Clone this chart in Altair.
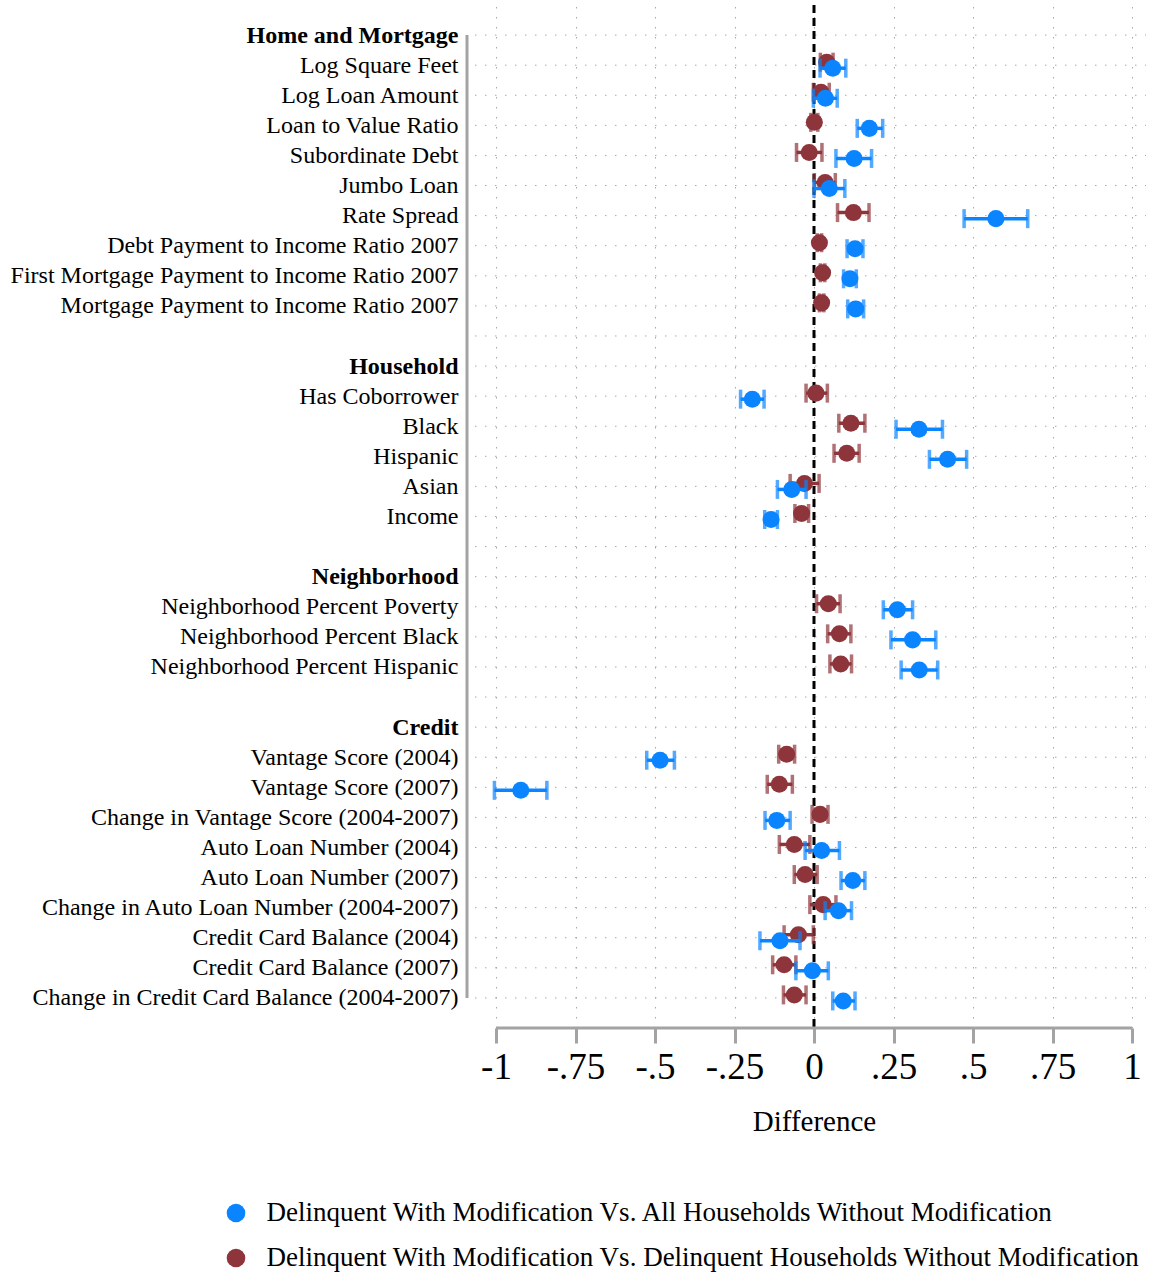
import json

import altair as alt
import pandas as pd

# Row layout of the y axis (group headers, variables and spacer rows), top to bottom
row_labels = [
    "Home and Mortgage",
    "Log Square Feet",
    "Log Loan Amount",
    "Loan to Value Ratio",
    "Subordinate Debt",
    "Jumbo Loan",
    "Rate Spread",
    "Debt Payment to Income Ratio 2007",
    "First Mortgage Payment to Income Ratio 2007",
    "Mortgage Payment to Income Ratio 2007",
    "",
    "Household",
    "Has Coborrower",
    "Black",
    "Hispanic",
    "Asian",
    "Income",
    "",
    "Neighborhood",
    "Neighborhood Percent Poverty",
    "Neighborhood Percent Black",
    "Neighborhood Percent Hispanic",
    "",
    "Credit",
    "Vantage Score (2004)",
    "Vantage Score (2007)",
    "Change in Vantage Score (2004-2007)",
    "Auto Loan Number (2004)",
    "Auto Loan Number (2007)",
    "Change in Auto Loan Number (2004-2007)",
    "Credit Card Balance (2004)",
    "Credit Card Balance (2007)",
    "Change in Credit Card Balance (2004-2007)",
]
group_headers = ["Home and Mortgage", "Household", "Neighborhood", "Credit"]
variables = [lab for lab in row_labels if lab and lab not in group_headers]

series_all = "Delinquent With Modification Vs. All Households Without Modification"
series_delinq = "Delinquent With Modification Vs. Delinquent Households Without Modification"

# Difference vs. all households without modification (estimate, 95% CI)
all_est = [0.059, 0.036, 0.174, 0.126, 0.048, 0.572, 0.129, 0.113, 0.131,
           -0.194, 0.330, 0.420, -0.070, -0.135,
           0.262, 0.310, 0.331,
           -0.484, -0.922, -0.117, 0.024, 0.122, 0.077, -0.107, -0.005, 0.092]
all_lo = [0.019, -0.002, 0.136, 0.069, 0.000, 0.472, 0.104, 0.093, 0.106,
          -0.231, 0.258, 0.363, -0.115, -0.155,
          0.218, 0.242, 0.274,
          -0.526, -1.005, -0.154, -0.028, 0.085, 0.035, -0.170, -0.057, 0.059]
all_hi = [0.100, 0.073, 0.216, 0.181, 0.097, 0.672, 0.154, 0.133, 0.156,
          -0.157, 0.404, 0.480, -0.025, -0.115,
          0.310, 0.383, 0.389,
          -0.439, -0.840, -0.075, 0.080, 0.160, 0.118, -0.044, 0.045, 0.129]

# Difference vs. delinquent households without modification (estimate, 95% CI)
delinq_est = [0.040, 0.022, 0.001, -0.015, 0.035, 0.124, 0.017, 0.027, 0.024,
              0.006, 0.116, 0.103, -0.030, -0.039,
              0.045, 0.080, 0.084,
              -0.086, -0.109, 0.019, -0.062, -0.028, 0.029, -0.049, -0.094, -0.062]
delinq_lo = [0.020, -0.002, -0.010, -0.055, 0.001, 0.074, 0.010, 0.020, 0.017,
             -0.025, 0.078, 0.063, -0.075, -0.060,
             0.008, 0.043, 0.050,
             -0.111, -0.147, -0.006, -0.109, -0.062, -0.013, -0.094, -0.130, -0.096]
delinq_hi = [0.060, 0.048, 0.012, 0.025, 0.067, 0.173, 0.024, 0.034, 0.031,
             0.042, 0.160, 0.142, 0.016, -0.017,
             0.082, 0.116, 0.118,
             -0.061, -0.068, 0.044, -0.013, 0.010, 0.069, -0.002, -0.057, -0.025]

x_ticks = [-1, -0.75, -0.5, -0.25, 0, 0.25, 0.5, 0.75, 1]
x_tick_labels = ["-1", "-.75", "-.5", "-.25", "0", ".25", ".5", ".75", "1"]

BLUE = "#0a84ff"
RED = "#8e353b"
AXIS_GRAY = "#a3a3a3"
GRID_GRAY = "#a8a8a8"
SERIF = "Liberation Serif"

W, H = 683, 1023
X_MIN, X_MAX = -1.0912, 1.0566
n_rows = len(row_labels)
header_rows = [row_labels.index(h) for h in group_headers]


def series_frame(name, est, lo, hi, shift):
    rows = [row_labels.index(v) for v in variables]
    return pd.DataFrame({
        "variable": variables,
        "series": name,
        "est": est,
        "lo": lo,
        "hi": hi,
        "pos": [r + shift for r in rows],
    })


df_all = series_frame(series_all, all_est, all_lo, all_hi, 0.1)
df_delinq = series_frame(series_delinq, delinq_est, delinq_lo, delinq_hi, -0.1)

x_scale = alt.Scale(domain=[X_MIN, X_MAX], nice=False, zero=False)
y_scale = alt.Scale(domain=[-1, 33], reverse=True, nice=False, zero=False)

# Axis title centred under the -1..1 span
title_x = W * (0 - X_MIN) / (X_MAX - X_MIN)

x_axis = alt.Axis(
    values=x_ticks,
    labelExpr=f"{json.dumps(x_tick_labels)}[round((datum.value + 1) * 4)]",
    title="Difference",
    domain=False,
    ticks=True,
    tickSize=15,
    tickWidth=3,
    tickColor=AXIS_GRAY,
    grid=True,
    gridDash=[1.5, 8.5],
    gridColor=GRID_GRAY,
    gridWidth=1,
    labelFont=SERIF,
    labelFontSize=37,
    labelColor="black",
    labelPadding=6,
    labelFlush=False,
    labelOverlap=False,
    titleFont=SERIF,
    titleFontSize=29,
    titleFontWeight="normal",
    titleColor="black",
    titlePadding=22,
    titleX=title_x,
)

y_axis = alt.Axis(
    values=list(range(n_rows)),
    labelExpr=f"{json.dumps(row_labels)}[datum.value]",
    title=None,
    domain=False,
    ticks=False,
    tickSize=0,
    grid=False,
    labelFont=SERIF,
    labelFontSize=24,
    labelColor="black",
    labelPadding=9,
    labelLimit=1000,
    labelOverlap=False,
    labelFontWeight={
        "condition": {
            "test": f"indexof({json.dumps(header_rows)}, datum.value) >= 0",
            "value": "bold",
        },
        "value": "normal",
    },
)


def X(field):
    return alt.X(field, type="quantitative", scale=x_scale, axis=x_axis)


def Y(field):
    return alt.Y(field, type="quantitative", scale=y_scale, axis=y_axis)


# Dotted horizontal guide at every row
h_grid = alt.Chart(pd.DataFrame({"row": list(range(n_rows))})).mark_rule(
    color=GRID_GRAY, strokeWidth=1, strokeDash=[1.5, 8.5]
).encode(y=Y("row"), x=alt.value(8), x2=alt.value(W - 4))

# Left axis line over the labelled rows
y_line = alt.Chart(pd.DataFrame({"a": [0], "b": [n_rows - 1]})).mark_rule(
    color=AXIS_GRAY, strokeWidth=3
).encode(x=alt.value(0), y=Y("a"), y2="b")

# Bottom axis line from -1 to 1
x_line = alt.Chart(pd.DataFrame({"a": [-1], "b": [1]})).mark_rule(
    color=AXIS_GRAY, strokeWidth=3
).encode(x=X("a"), x2="b", y=alt.value(H))

# Reference line at zero difference
zero_line = alt.Chart(pd.DataFrame({"zero": [0]})).mark_rule(
    color="black", strokeWidth=3, strokeDash=[8, 5]
).encode(x=X("zero"))

color_scale = alt.Scale(domain=[series_all, series_delinq], range=[BLUE, RED])
legend = alt.Legend(
    orient="none",
    legendX=-244.5,
    legendY=1194.5,
    title=None,
    direction="vertical",
    labelFont=SERIF,
    labelFontSize=27,
    labelColor="black",
    labelLimit=2000,
    labelOffset=17,
    symbolType="circle",
    symbolSize=346,
    symbolStrokeWidth=0,
    symbolOpacity=1,
    rowPadding=17,
)


def series_layers(frame, color):
    base = alt.Chart(frame)
    bar = base.mark_rule(color=color, strokeWidth=3.5).encode(
        x=X("lo"), x2="hi", y=Y("pos")
    )
    cap_lo = base.mark_tick(color=color, orient="vertical", size=19, thickness=3.5).encode(
        x=X("lo"), y=Y("pos")
    )
    cap_hi = base.mark_tick(color=color, orient="vertical", size=19, thickness=3.5).encode(
        x=X("hi"), y=Y("pos")
    )
    dots = base.mark_circle(size=290, opacity=1).encode(
        x=X("est"),
        y=Y("pos"),
        color=alt.Color("series:N", scale=color_scale, legend=legend),
    )
    return [bar, cap_lo, cap_hi, dots]


chart = alt.layer(
    h_grid,
    zero_line,
    y_line,
    x_line,
    *series_layers(df_delinq, RED),
    *series_layers(df_all, BLUE),
).properties(
    width=W,
    height=H,
    background="white",
    autosize=alt.AutoSizeParams(type="none"),
    padding={"left": 467, "top": 5, "right": 1, "bottom": 250},
).configure_view(strokeWidth=0, stroke="transparent")

chart.save("out.html", embed_options={"renderer": "svg", "actions": False})
